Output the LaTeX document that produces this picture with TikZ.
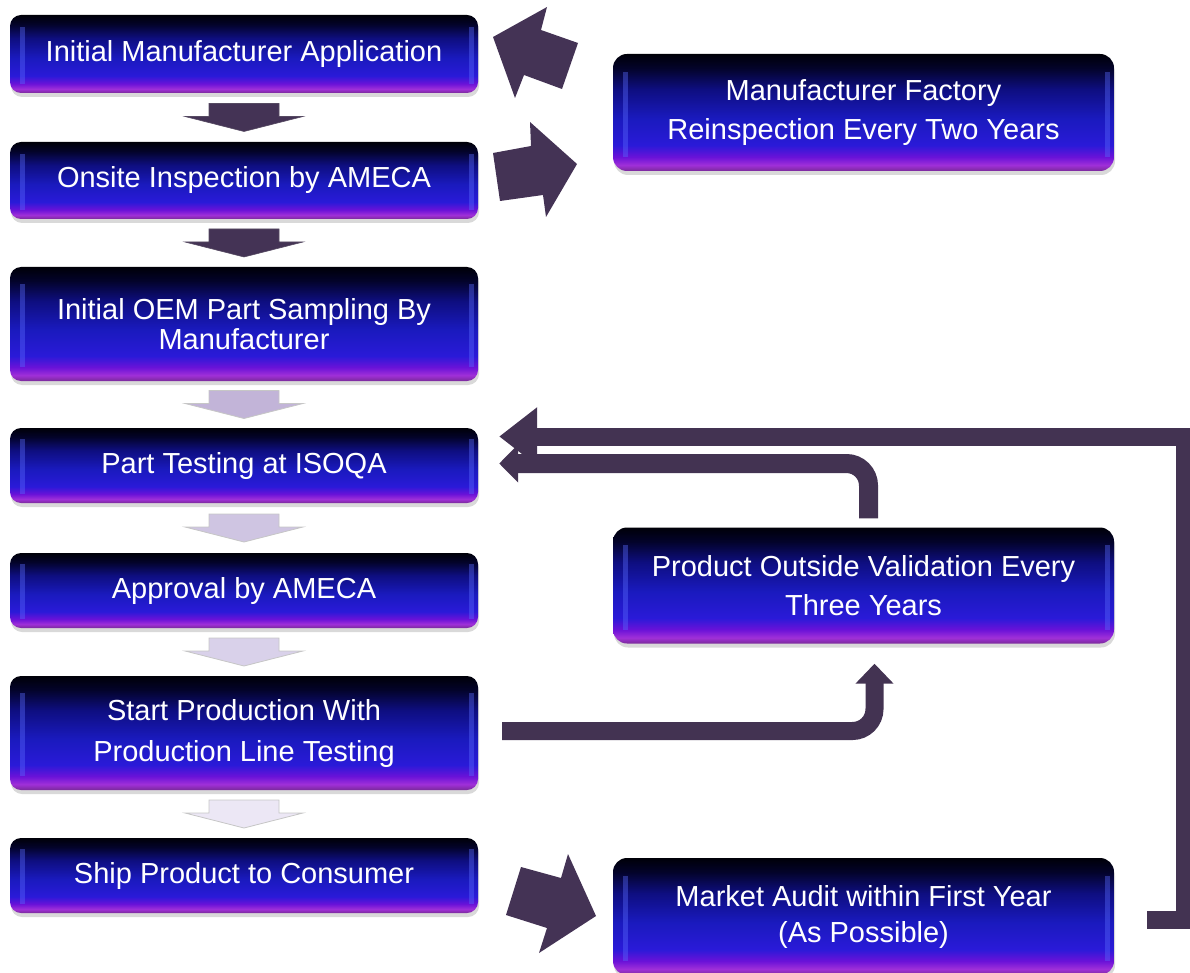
\documentclass[tikz,border=0pt]{standalone}
\usepackage{fontspec}
\setmainfont{Liberation Sans}
\usetikzlibrary{arrows.meta,calc,shadows}

\definecolor{vbot}{HTML}{7A2A9A}
\definecolor{vmag}{HTML}{A030D8}
\definecolor{vpur}{HTML}{6A12D8}
\definecolor{vblue2}{HTML}{2A1AD8}
\definecolor{vblue}{HTML}{1A1ABE}
\definecolor{vnavy}{HTML}{0E0E80}
\definecolor{vdark}{HTML}{03032A}
\definecolor{vtop}{HTML}{000008}
\definecolor{arrD}{HTML}{443355}
\definecolor{connC}{HTML}{433352}
\definecolor{arrL1}{HTML}{C2B4D8}
\definecolor{arrL2}{HTML}{CFC5E2}
\definecolor{arrL3}{HTML}{D9D1EA}
\definecolor{arrL4}{HTML}{ECE7F5}
\definecolor{hl}{HTML}{5A6CFF}

\pgfdeclareverticalshading{glossy}{100bp}{color(0bp)=(vbot); color(25bp)=(vbot); color(27.5bp)=(vmag); color(31bp)=(vpur); color(36bp)=(vblue2); color(47.5bp)=(vblue); color(60bp)=(vnavy); color(69bp)=(vdark); color(75bp)=(vtop); color(100bp)=(vtop)}

\newcommand\boxfont{\fontsize{29}{39}\selectfont}

\tikzset{
  box/.style={rounded corners=11pt, shading=glossy, text=white, font=\boxfont,
    align=center, inner sep=0pt,
    drop shadow={shadow xshift=1pt, shadow yshift=-4pt, opacity=0.3},
    path picture={
      \fill[hl, opacity=0.4, sharp corners] ($(path picture bounding box.south west)!0.12!(path picture bounding box.north west)+(10pt,0pt)$) rectangle ($(path picture bounding box.south west)!0.85!(path picture bounding box.north west)+(15pt,0pt)$);
      \fill[hl, opacity=0.4, sharp corners] ($(path picture bounding box.south east)!0.12!(path picture bounding box.north east)+(-9pt,0pt)$) rectangle ($(path picture bounding box.south east)!0.85!(path picture bounding box.north east)+(-4pt,0pt)$);
    }},
  lbox/.style={box, minimum width=468pt},
  rbox/.style={box, minimum width=501pt, rounded corners=14pt},
  downblock/.pic={\path[pic actions] (-35,-14) -- (35,-14) -- (35,-1) -- (59,-1) -- (0,14) -- (-59,-1) -- (-35,-1) -- cycle;},
  darr/.style={fill=arrD, draw=arrD!70!gray, line width=0.6pt},
  larr/.style={fill=#1, draw=gray!45, line width=0.8pt},
  conn/.style={draw=connC, line width=18pt},
  blockarr/.style={fill=arrD},
}

\begin{document}
\begin{tikzpicture}[x=1pt,y=-1pt]
\useasboundingbox (0,0) rectangle (1190,973);
\clip (0,0) rectangle (1190,973);

% left column
\node[lbox, minimum height=78pt] (app) at (244,54) {\raisebox{-2pt}{Initial Manufacturer Application}};
\node[lbox, minimum height=77pt] (insp) at (244,180.5) {\raisebox{-2pt}{Onsite Inspection by AMECA}};
\node[lbox, minimum height=114pt, font=\fontsize{29}{30}\selectfont] (samp) at (244,324) {Initial OEM Part Sampling By\\Manufacturer};
\node[lbox, minimum height=75pt] (test) at (244,465.5) {Part Testing at ISOQA};
\node[lbox, minimum height=75pt] (appr) at (244,590.5) {Approval by AMECA};
\node[lbox, minimum height=114pt, font=\fontsize{29}{41}\selectfont] (prod) at (244,733) {Start Production With\\Production Line Testing};
\node[lbox, minimum height=75pt] (ship) at (244,875.5) {\raisebox{-2pt}{Ship Product to Consumer}};

% right column
\node[rbox, minimum height=117pt] (reinsp) at (863.5,112.5) {Manufacturer Factory\\Reinspection Every Two Years};
\node[rbox, minimum height=116pt] (val) at (863.5,585.5) {Product Outside Validation Every\\Three Years};
\node[rbox, minimum height=117pt, font=\fontsize{29}{36}\selectfont] (mkt) at (863.5,916.5) {Market Audit within First Year\\(As Possible)};

% down block arrows
\pic[darr] at ($(app.south)!0.5!(insp.north)$) {downblock};
\pic[darr] at ($(insp.south)!0.5!(samp.north)$) {downblock};
\pic[larr=arrL1] at ($(samp.south)!0.5!(test.north)$) {downblock};
\pic[larr=arrL2] at ($(test.south)!0.5!(appr.north)$) {downblock};
\pic[larr=arrL3] at ($(appr.south)!0.5!(prod.north)$) {downblock};
\pic[larr=arrL4] at ($(prod.south)!0.5!(ship.north)$) {downblock};

% big block arrows
\fill[blockarr] (493,37) -- (547,7) -- (541,30) -- (578,43) -- (562,89) -- (524,75) -- (515,98) -- cycle;
\fill[blockarr] (493,153) -- (531,146) -- (530,122) -- (577,164) -- (546,217) -- (543,195) -- (500,201) -- cycle;
\fill[blockarr] (521,867) -- (561,878) -- (568,854) -- (596,916) -- (539,953) -- (547,928) -- (506,915) -- cycle;

% connectors
\draw[conn, rounded corners=22pt, -{Triangle[width=37pt,length=20pt]}]
  ([xshift=24pt,yshift=2pt]prod.east) -| ($(val.south)+(11,20)$);
\draw[conn, line width=19pt, rounded corners=22pt, -{Triangle[width=37pt,length=19pt]}]
  ($(val.north)+(5,-9)$) |- ($(test.east)+(21,-2)$);
\draw[conn, miter limit=10, -{Triangle[width=56pt,length=38pt]}]
  ($(mkt.east)+(33,3)$) -- ($(mkt.east)+(71,3)$) |- ($(test.east)+(21,-29)$);
\end{tikzpicture}
\end{document}
